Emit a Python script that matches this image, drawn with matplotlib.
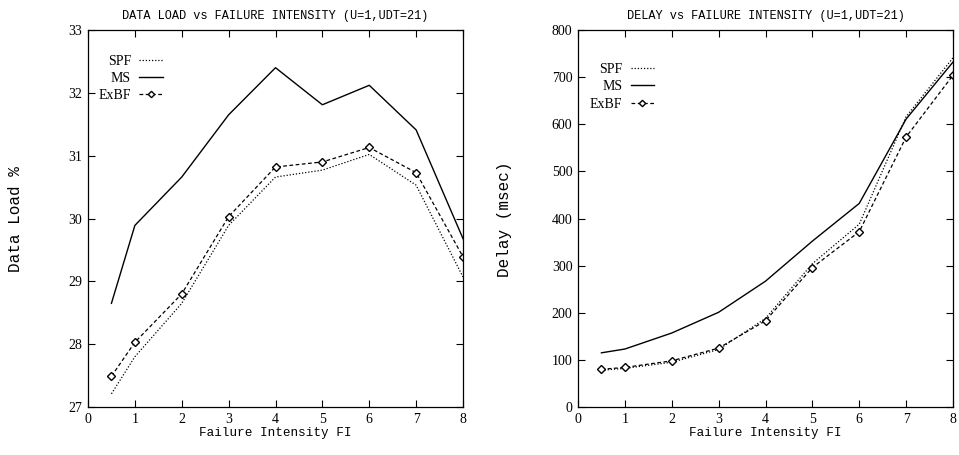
import matplotlib
matplotlib.use("Agg")
import matplotlib.pyplot as plt

fi = [0.5, 1, 2, 3, 4, 5, 6, 7, 8]

load_spf = [27.21, 27.80, 28.65, 29.89, 30.66, 30.77, 31.02, 30.53, 29.07]
load_ms = [28.65, 29.89, 30.66, 31.65, 32.40, 31.81, 32.12, 31.41, 29.68]
load_exbf = [27.49, 28.03, 28.80, 30.03, 30.82, 30.90, 31.13, 30.73, 29.39]

delay_spf = [78, 82, 95, 122, 188, 304, 388, 616, 741]
delay_ms = [115, 123, 157, 201, 267, 352, 432, 611, 732]
delay_exbf = [80, 84, 98, 125, 183, 296, 372, 573, 704]

series_names = ["SPF", "MS", "ExBF"]
titles = ["DATA LOAD vs FAILURE INTENSITY (U=1,UDT=21)",
          "DELAY vs FAILURE INTENSITY (U=1,UDT=21)"]
ylabels = ["Data Load %", "Delay (msec)"]
xlabel = "Failure Intensity FI"
xticks = [0, 1, 2, 3, 4, 5, 6, 7, 8]
yticks_load = [27, 28, 29, 30, 31, 32, 33]
yticks_delay = [0, 100, 200, 300, 400, 500, 600, 700, 800]

MONO = "Liberation Mono"
SERIF = "Liberation Serif"

fig = plt.figure(figsize=(9.59, 4.55), dpi=100)
ax1 = fig.add_axes([88/959, 1-407/455, 375/959, 377/455])
ax2 = fig.add_axes([578/959, 1-407/455, 375/959, 377/455])

configs = [
    (ax1, load_spf, load_ms, load_exbf, yticks_load, (27, 33), 0.2, 0.935, 15),
    (ax2, delay_spf, delay_ms, delay_exbf, yticks_delay, (0, 800), 0.203, 0.912, 505),
]

for i, (ax, spf, ms, exbf, yt, ylim, lx, ly, ylab_x) in enumerate(configs):
    ax.plot(fi, spf, color="black", lw=0.9, linestyle=(0, (1, 1.5)), label=series_names[0])
    ax.plot(fi, ms, color="black", lw=1.0, linestyle="-", label=series_names[1])
    ax.plot(fi, exbf, color="black", lw=0.9, linestyle=(0, (3, 2)), marker="D",
            markersize=3.6, markerfacecolor="white", markeredgecolor="black",
            markeredgewidth=1.0, label=series_names[2])
    ax.set_xlim(0, 8)
    ax.set_ylim(*ylim)
    ax.set_xticks(xticks)
    ax.set_yticks(yt)
    ax.tick_params(direction="in", length=5, width=0.8, top=True, right=True,
                   labelsize=10, pad=4)
    for lab in ax.get_xticklabels() + ax.get_yticklabels():
        lab.set_fontfamily(SERIF)
    for sp in ax.spines.values():
        sp.set_linewidth(0.9)
    ax.set_title(titles[i], fontfamily=MONO, fontsize=8.6, pad=8)
    ax.set_xlabel(xlabel, fontfamily=MONO, fontsize=9.1, labelpad=1)
    fig.text(ylab_x/959, 1-219/455, ylabels[i], rotation=90, ha="center", va="center",
             fontfamily=MONO, fontsize=11.5)
    leg = ax.legend(loc="upper right", bbox_to_anchor=(lx, ly), frameon=False,
                    markerfirst=False, borderpad=0, borderaxespad=0,
                    handlelength=1.7, handletextpad=0.6, labelspacing=0.3,
                    prop={"family": SERIF, "size": 10}, markerscale=0.9)

fig.savefig("out.png", dpi=100)
